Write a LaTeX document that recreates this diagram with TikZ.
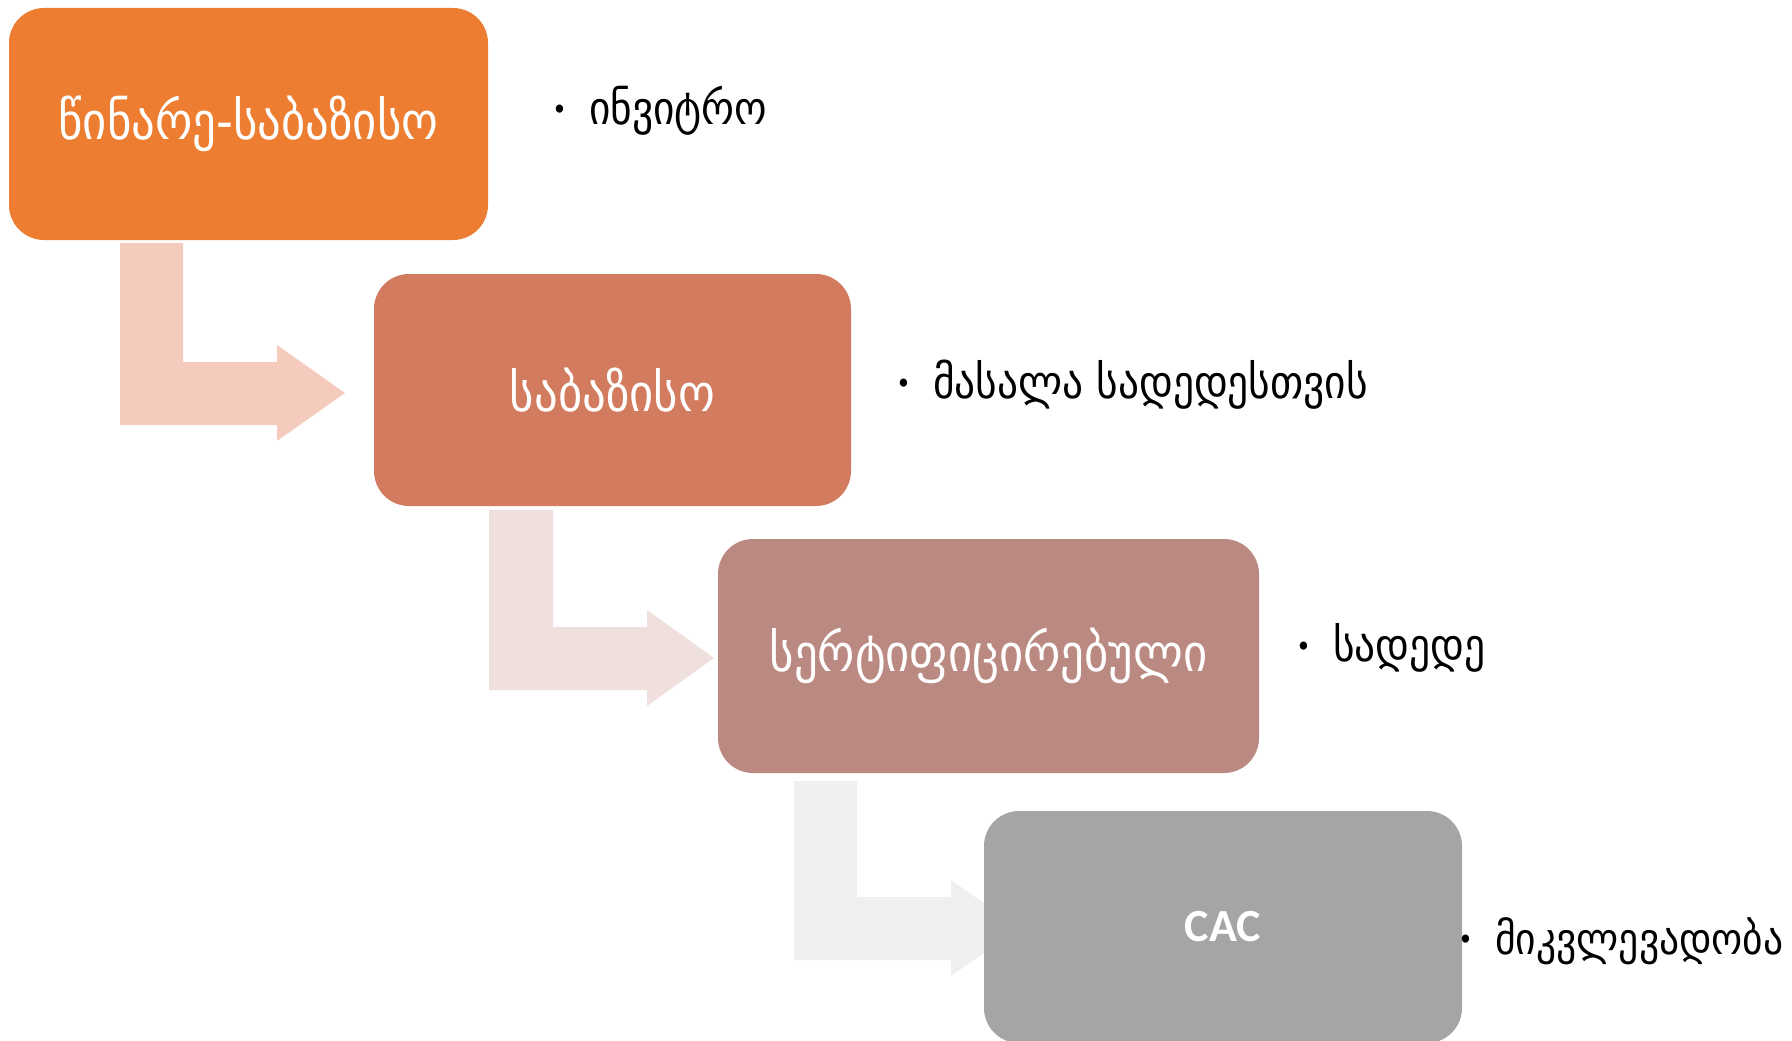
\documentclass[tikz,border=0pt]{standalone}
\usepackage{fontspec}
\newfontfamily\geofont{DejaVu Sans Condensed}
\newfontfamily\calfont{Carlito}
\definecolor{cA}{HTML}{ED7D31}
\definecolor{cB}{HTML}{D27B5E}
\definecolor{cC}{HTML}{BA8A82}
\definecolor{cD}{HTML}{A5A5A5}
\definecolor{aA}{HTML}{F5CBBE}
\definecolor{aB}{HTML}{EFDFDD}
\definecolor{aC}{HTML}{EFEFEF}
\tikzset{
  stage/.style={rounded corners=35pt, inner sep=0pt, text=white, font=\geofont\fontsize{52}{60}\selectfont},
  item/.style={anchor=west, inner sep=0pt, font=\geofont\fontsize{46}{54}\selectfont},
}
\newcommand{\bul}{\raisebox{0.2ex}{\fontsize{28}{28}\selectfont•}\hspace{22pt}}
\begin{document}
\begin{tikzpicture}[x=1pt,y=-1pt]
\useasboundingbox (0,0) rectangle (1792,1041);
\clip (0,0) rectangle (1792,1041);
% bent arrows
\fill[aA] (120,243) -- (183,243) -- (183,362) -- (277,362) -- (277,345) -- (345,393) -- (277,441) -- (277,425) -- (120,425) -- cycle;
\fill[aB] (489,510) -- (553,510) -- (553,627) -- (647,627) -- (647,610) -- (714,658) -- (647,706) -- (647,690) -- (489,690) -- cycle;
\fill[aC] (794,781) -- (857,781) -- (857,897) -- (951,897) -- (951,880) -- (1019,928) -- (951,976) -- (951,960) -- (794,960) -- cycle;
% boxes
\node[stage, fill=cA, minimum width=479pt, minimum height=232pt] (s1) at (248.5,124) {წინარე-საბაზისო};
\node[stage, fill=cB, minimum width=477pt, minimum height=232pt] (s2) at (612.5,390) {საბაზისო};
\node[stage, fill=cC, minimum width=541pt, minimum height=234pt] (s3) at (988.5,656) {სერტიფიცირებული};
\node[stage, fill=cD, minimum width=478pt, minimum height=232pt, font=\calfont\bfseries\fontsize{46}{50}\selectfont] (s4) at (1223,927) {CAC};
% bullet items
\node[item] (t1) at (552,111) {\bul ინვიტრო};
\node[item] (t2) at (896,385) {\bul მასალა სადედესთვის};
\node[item] (t3) at (1296,648) {\bul სადედე};
\node[item, font=\geofont\fontsize{44}{52}\selectfont] (t4) at (1458,941) {\bul მიკვლევადობა};
\end{tikzpicture}
\end{document}
